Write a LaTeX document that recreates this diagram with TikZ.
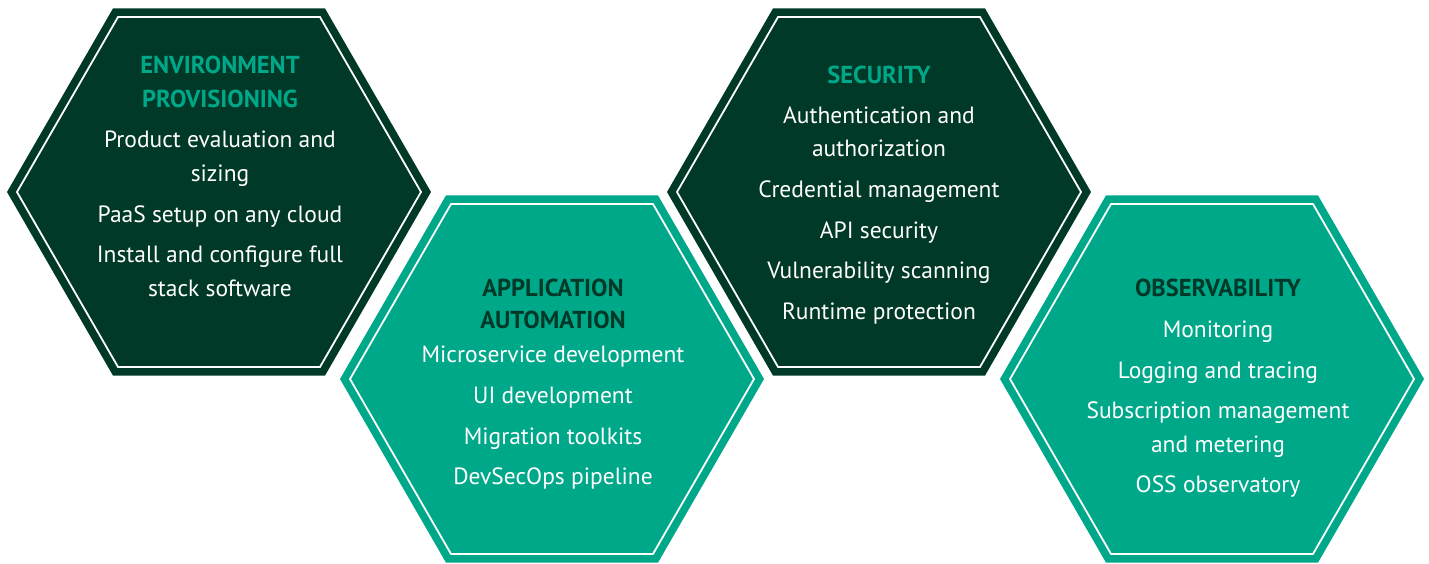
\documentclass[tikz,border=0pt]{standalone}
\usepackage{fontspec}
\setmainfont{PT Sans}
\usetikzlibrary{shapes.geometric}
\definecolor{darkgreen}{RGB}{0,57,39}
\definecolor{tealgreen}{RGB}{0,168,138}
\tikzset{
  hexouter/.style={regular polygon, regular polygon sides=6, minimum size=424pt, inner sep=0pt, outer sep=0pt},
  hexinner/.style={regular polygon, regular polygon sides=6, minimum size=404pt, inner sep=0pt, draw=white, line width=1.8pt},
  bodytext/.style={anchor=base, text=white, inner sep=0pt, font=\fontsize{23.5}{26}\selectfont},
  headtext/.style={anchor=base, inner sep=0pt, font=\fontsize{24.5}{26}\selectfont\bfseries},
}
\begin{document}
\begin{tikzpicture}[x=1pt,y=-1pt]
\useasboundingbox (0,0) rectangle (1429,563);
% hexagons
\node[hexouter, fill=darkgreen] (h1) at (219,192) {};
\node[hexinner] (h1i) at (219,192) {};
\node[hexouter, fill=tealgreen] (h2) at (552,379) {};
\node[hexinner] (h2i) at (552,379) {};
\node[hexouter, fill=darkgreen] (h3) at (879,192) {};
\node[hexinner] (h3i) at (879,192) {};
\node[hexouter, fill=tealgreen] (h4) at (1212,379) {};
\node[hexinner] (h4i) at (1212,379) {};
% hexagon 1
\node[headtext, text=tealgreen] (a0) at (220,73) {ENVIRONMENT};
\node[headtext, text=tealgreen] (a1) at (220,107) {PROVISIONING};
\node[bodytext] (a2) at (220,147) {Product evaluation and};
\node[bodytext] (a3) at (220,181) {sizing};
\node[bodytext] (a4) at (220,222) {PaaS setup on any cloud};
\node[bodytext] (a5) at (220,262) {Install and configure full};
\node[bodytext] (a6) at (220,296) {stack software};
% hexagon 2
\node[headtext, text=darkgreen] (b0) at (553,296) {APPLICATION};
\node[headtext, text=darkgreen] (b1) at (553,328) {AUTOMATION};
\node[bodytext] (b2) at (553,362) {Microservice development};
\node[bodytext] (b3) at (553,403) {UI development};
\node[bodytext] (b4) at (553,444) {Migration toolkits};
\node[bodytext] (b5) at (553,484) {DevSecOps pipeline};
% hexagon 3
\node[headtext, text=tealgreen] (c0) at (879,83) {SECURITY};
\node[bodytext] (c1) at (879,123) {Authentication and};
\node[bodytext] (c2) at (879,156) {authorization};
\node[bodytext] (c3) at (879,197) {Credential management};
\node[bodytext] (c4) at (879,238) {API security};
\node[bodytext] (c5) at (879,278) {Vulnerability scanning};
\node[bodytext] (c6) at (879,319) {Runtime protection};
% hexagon 4
\node[headtext, text=darkgreen] (d0) at (1218,296) {OBSERVABILITY};
\node[bodytext] (d1) at (1218,337) {Monitoring};
\node[bodytext] (d2) at (1218,378) {Logging and tracing};
\node[bodytext] (d3) at (1218,418) {Subscription management};
\node[bodytext] (d4) at (1218,452) {and metering};
\node[bodytext] (d5) at (1218,492) {OSS observatory};
\end{tikzpicture}
\end{document}
